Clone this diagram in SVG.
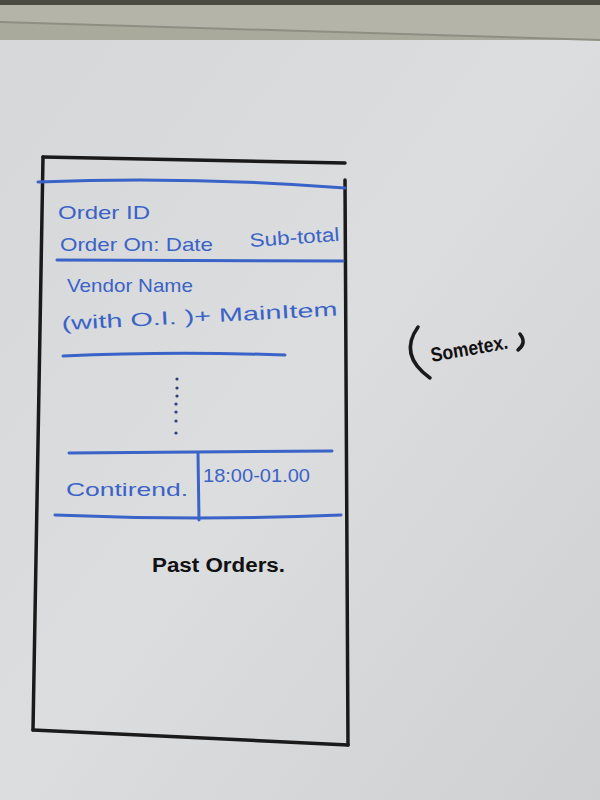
<svg xmlns="http://www.w3.org/2000/svg" width="600" height="800" viewBox="0 0 600 800">
<defs>
<linearGradient id="bg" x1="0" y1="0" x2="1" y2="1">
<stop offset="0" stop-color="#d6d7d9"/>
<stop offset="0.5" stop-color="#dcdddf"/>
<stop offset="1" stop-color="#cfd0d2"/>
</linearGradient>
<style>
.blue{stroke:#3a63c8;stroke-width:3;fill:none;stroke-linecap:round}
.blk{stroke:#1a1a1a;stroke-width:3.5;fill:none;stroke-linecap:round}
.bt{fill:#3a63c8;font-family:"Liberation Sans",sans-serif;font-size:19px}
.kt{fill:#111;font-family:"Liberation Sans",sans-serif;font-size:20px;font-weight:bold}
</style>
</defs>
<rect width="600" height="800" fill="url(#bg)"/>
<rect x="0" y="0" width="600" height="40" fill="#a9aa9c"/>
<polygon points="0,0 600,0 600,40 0,22" fill="#b4b5a8"/>
<rect x="0" y="0" width="600" height="5" fill="#4a4a40"/>
<line x1="0" y1="22" x2="600" y2="40" stroke="#8e8f83" stroke-width="2"/>
<g id="frame">
<path class="blk" d="M43,157 L345,163"/>
<path class="blk" d="M43,157 L33,730"/>
<path class="blk" d="M33,730 L348,745"/>
<path class="blk" d="M345,180 L348,745"/>
</g>
<g id="header">
<path class="blue" d="M38,182 Q190,176 345,188"/>
<text class="bt" x="58" y="219" textLength="92" lengthAdjust="spacingAndGlyphs">Order ID</text>
<text class="bt" x="60" y="251" textLength="153" lengthAdjust="spacingAndGlyphs">Order On: Date</text>
<text class="bt" x="250" y="247" textLength="90" lengthAdjust="spacingAndGlyphs" transform="rotate(-4 250 247)">Sub-total</text>
<path class="blue" d="M57,260 L343,261"/>
</g>
<g id="item">
<text class="bt" x="67" y="292" textLength="126" lengthAdjust="spacingAndGlyphs">Vendor Name</text>
<text class="bt" x="62" y="330" font-size="22" textLength="276" lengthAdjust="spacingAndGlyphs" transform="rotate(-3 62 330)">(with O.I. )+ MainItem</text>
<path class="blue" d="M63,356 Q170,351 285,355"/>
</g>
<g id="dots" fill="#2a3f80">
<circle cx="177" cy="379" r="1.6"/>
<circle cx="177" cy="388" r="1.6"/>
<circle cx="177" cy="396" r="1.6"/>
<circle cx="176" cy="404" r="1.6"/>
<circle cx="176" cy="412" r="1.6"/>
<circle cx="176" cy="421" r="1.6"/>
<circle cx="176" cy="433" r="1.6"/>
</g>
<g id="row">
<path class="blue" d="M69,453 L332,451"/>
<path class="blue" d="M198,453 L199,520"/>
<text class="bt" x="66" y="496" font-size="22" textLength="122" lengthAdjust="spacingAndGlyphs">Contirend.</text>
<text class="bt" x="203" y="482" font-size="20" textLength="107" lengthAdjust="spacingAndGlyphs">18:00-01.00</text>
<path class="blue" d="M55,515 Q200,521 341,515"/>
</g>
<text class="kt" x="152" y="572" textLength="133" lengthAdjust="spacingAndGlyphs">Past Orders.</text>
<g id="note">
<path class="blk" d="M418,327 Q398,355 430,378" stroke-width="3"/>
<text class="kt" x="432" y="362" textLength="78" lengthAdjust="spacingAndGlyphs" transform="rotate(-10 432 362)">Sometex.</text>
<path class="blk" d="M520,334 Q527,343 518,350" stroke-width="3"/>
</g>
</svg>
